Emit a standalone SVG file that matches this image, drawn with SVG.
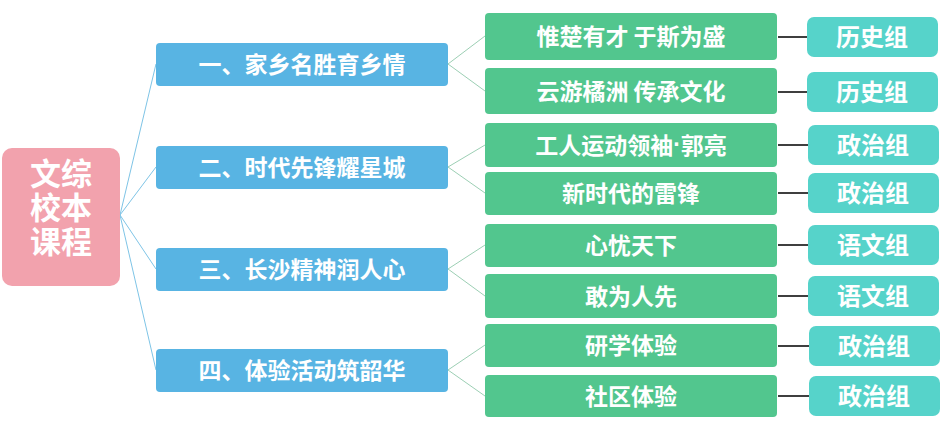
<svg xmlns="http://www.w3.org/2000/svg" width="947" height="429" viewBox="0 0 947 429">
<style>
text{font-family:"Noto Sans CJK SC","Noto Sans",sans-serif;font-weight:bold;fill:#fff;text-anchor:middle;dominant-baseline:central}
.root rect{fill:#F2A2AD}
.l1 rect{fill:#58B4E3}
.l2 rect{fill:#52C68E}
.l3 rect{fill:#56D3CA}
.l1 text,.l2 text{font-size:23px}
.l3 text{font-size:24px}
.root text{font-size:31px}
.dot{font-family:"Liberation Sans",sans-serif}
.c1{stroke:#7EC4E6;stroke-width:1;fill:none}
.c2{stroke:#9CCFB4;stroke-width:1;fill:none}
.c3{stroke:#000;stroke-width:1.3;fill:none}
</style>
<rect width="947" height="429" fill="#fff"/>
<g id="connectors">
<path class="c1" d="M120 215L156 64M120 215L156 167M120 215L156 269M120 215L156 370"/>
<path class="c2" d="M448 64L485 36M448 64L485 91M448 167L485 145M448 167L485 193M448 269L485 245M448 269L485 296M448 370L485 345M448 370L485 396"/>
<path class="c3" d="M778 37H807M778 92H807M778 145H808M778 193H808M778 245H808M778 296H808M778 346H809M778 396H809"/>
</g>
<g id="root" class="root"><rect x="2" y="148" width="118" height="138" rx="10"/>
<text x="61" y="171"><tspan x="61" y="171">文综</tspan><tspan x="61" y="205">校本</tspan><tspan x="61" y="239">课程</tspan></text></g>
<g id="n1" class="l1"><rect x="156" y="43" width="292" height="43" rx="4"/><text x="302" y="63">一、家乡名胜育乡情</text></g>
<g id="n2" class="l1"><rect x="156" y="146" width="292" height="43" rx="4"/><text x="302" y="166">二、时代先锋耀星城</text></g>
<g id="n3" class="l1"><rect x="156" y="248" width="292" height="43" rx="4"/><text x="302" y="268">三、长沙精神润人心</text></g>
<g id="n4" class="l1"><rect x="156" y="349" width="292" height="43" rx="4"/><text x="302" y="369">四、体验活动筑韶华</text></g>
<g id="g1" class="l2"><rect x="485" y="13" width="292" height="47" rx="4"/><text x="631" y="35">惟楚有才 于斯为盛</text></g>
<g id="g2" class="l2"><rect x="485" y="68" width="292" height="46" rx="4"/><text x="631" y="89.5">云游橘洲 传承文化</text></g>
<g id="g3" class="l2"><rect x="485" y="123" width="292" height="44" rx="4"/><text x="631" y="143.5">工人运动领袖<tspan class="dot">·</tspan>郭亮</text></g>
<g id="g4" class="l2"><rect x="485" y="172" width="292" height="43" rx="4"/><text x="631" y="192">新时代的雷锋</text></g>
<g id="g5" class="l2"><rect x="485" y="224" width="292" height="43" rx="4"/><text x="631" y="244">心忧天下</text></g>
<g id="g6" class="l2"><rect x="485" y="274" width="292" height="44" rx="4"/><text x="631" y="294.5">敢为人先</text></g>
<g id="g7" class="l2"><rect x="485" y="324" width="292" height="43" rx="4"/><text x="631" y="344">研学体验</text></g>
<g id="g8" class="l2"><rect x="485" y="375" width="292" height="42" rx="4"/><text x="631" y="394.5">社区体验</text></g>
<g id="t1" class="l3"><rect x="807" y="17" width="131" height="40" rx="7"/><text x="872" y="35.5">历史组</text></g>
<g id="t2" class="l3"><rect x="807" y="72" width="131" height="40" rx="7"/><text x="872" y="90.5">历史组</text></g>
<g id="t3" class="l3"><rect x="808" y="125" width="131" height="40" rx="7"/><text x="873" y="143.5">政治组</text></g>
<g id="t4" class="l3"><rect x="808" y="173" width="131" height="40" rx="7"/><text x="873" y="191.5">政治组</text></g>
<g id="t5" class="l3"><rect x="808" y="225" width="131" height="40" rx="7"/><text x="873" y="243.5">语文组</text></g>
<g id="t6" class="l3"><rect x="808" y="276" width="131" height="40" rx="7"/><text x="873" y="294.5">语文组</text></g>
<g id="t7" class="l3"><rect x="809" y="326" width="131" height="40" rx="7"/><text x="874" y="344.5">政治组</text></g>
<g id="t8" class="l3"><rect x="809" y="376" width="131" height="40" rx="7"/><text x="874" y="394.5">政治组</text></g>
</svg>
